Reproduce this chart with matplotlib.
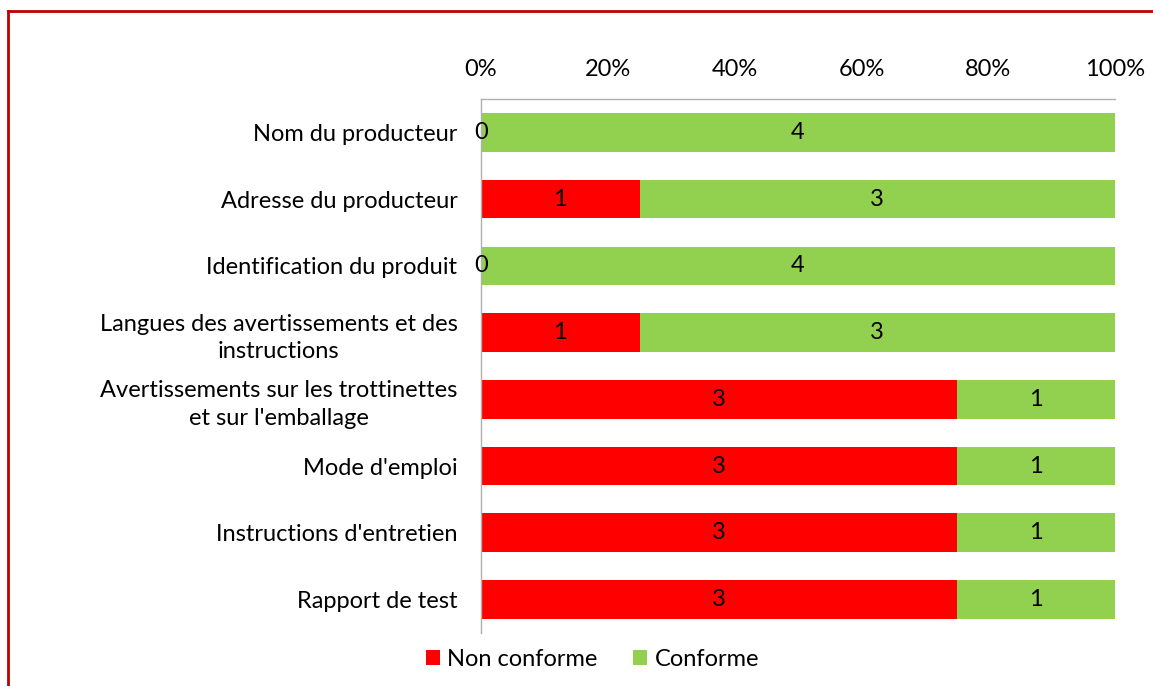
import matplotlib
matplotlib.use("Agg")
import matplotlib.pyplot as plt
from matplotlib.lines import Line2D
import numpy as np

plt.rcParams['font.family'] = ['Lato', 'DejaVu Sans']

categories = [
    "Nom du producteur",
    "Adresse du producteur",
    "Identification du produit",
    "Langues des avertissements et des\ninstructions",
    "Avertissements sur les trottinettes\net sur l'emballage",
    "Mode d'emploi",
    "Instructions d'entretien",
    "Rapport de test",
]
non_conforme = [0, 1, 0, 1, 3, 3, 3, 3]
conforme = [4, 3, 4, 3, 1, 1, 1, 1]
ticks = [0, 20, 40, 60, 80, 100]

red = "#ff0000"
green = "#92d050"
fs = 17

nc = np.array(non_conforme, dtype=float)
co = np.array(conforme, dtype=float)
total = nc + co
nc_pct = nc / total * 100
co_pct = co / total * 100

fig = plt.figure(figsize=(11.53, 6.86), dpi=100)
ax = fig.add_axes([0.4172, 0.0773, 0.5499, 0.7784])

y = np.arange(len(categories))
b1 = ax.barh(y, nc_pct, height=0.58, color=red, label="Non conforme")
b2 = ax.barh(y, co_pct, left=nc_pct, height=0.58, color=green, label="Conforme")

for i in range(len(categories)):
    ax.text(nc_pct[i] / 2, y[i], str(non_conforme[i]), ha="center", va="center", fontsize=fs)
    ax.text(nc_pct[i] + co_pct[i] / 2, y[i], str(conforme[i]), ha="center", va="center", fontsize=fs)

ax.set_ylim(len(categories) - 0.5, -0.5)
ax.set_xlim(0, 100)
ax.xaxis.tick_top()
ax.set_xticks(ticks)
ax.set_xticklabels([f"{t}%" for t in ticks], fontsize=fs)
ax.set_yticks(y)
ax.set_yticklabels(categories, fontsize=fs, ha="right", multialignment="center", linespacing=1.4)
ax.tick_params(axis="x", length=0, pad=14)
ax.tick_params(axis="y", length=0, pad=17)
for s in ["right", "bottom"]:
    ax.spines[s].set_visible(False)
for s in ["top", "left"]:
    ax.spines[s].set_color("#b0b0b0")
    ax.spines[s].set_linewidth(1)

fig.legend(handles=[b1, b2], loc="center", bbox_to_anchor=(0.514, 0.039), ncol=2,
           frameon=False, fontsize=fs, handlelength=0.6, handleheight=0.6,
           handletextpad=0.3, columnspacing=1.5)

# frame around the chart
fig.add_artist(Line2D([0.0069, 1.0], [0.984, 0.984], color="#c00000", lw=2, transform=fig.transFigure))
fig.add_artist(Line2D([0.0069, 0.0069], [0.984, 0.0], color="#c00000", lw=2, transform=fig.transFigure))

fig.savefig("out.png", dpi=100)
